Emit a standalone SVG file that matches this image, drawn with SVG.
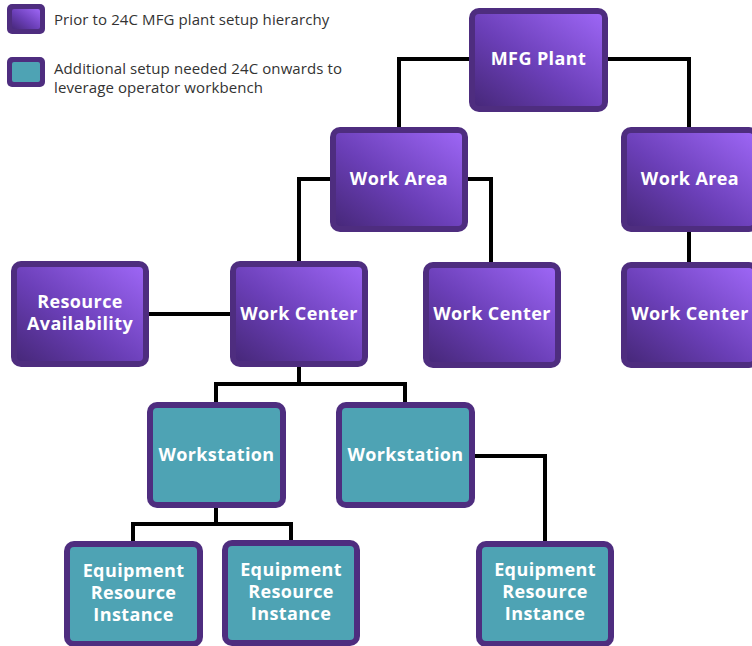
<svg xmlns="http://www.w3.org/2000/svg" width="752" height="646" viewBox="0 0 752 646">
<defs>
<linearGradient id="pg" x1="0" y1="1" x2="1" y2="0">
<stop offset="0" stop-color="#47287a"/>
<stop offset="0.45" stop-color="#6b3fb8"/>
<stop offset="1" stop-color="#9d66f5"/>
</linearGradient>
<style>
.ob{fill:#4e2d7f}
.pi{fill:url(#pg)}
.ti{fill:#4ea3b4}
.nt{font-family:"Open Sans","Lato","Liberation Sans",sans-serif;font-weight:700;font-size:18px;letter-spacing:0.4px;fill:#ffffff;text-anchor:middle}
.lt{font-family:"Open Sans","Lato","Liberation Sans",sans-serif;font-size:15px;letter-spacing:0.1px;fill:#333333}
.cn{fill:none;stroke:#000;stroke-width:4;stroke-linejoin:miter;stroke-linecap:butt}
</style>
</defs>
<rect width="752" height="646" fill="#ffffff"/>
<g id="legend">
<rect x="7" y="4" width="38" height="30" rx="5" class="ob"/>
<rect x="12" y="9" width="28" height="20" rx="2" class="pi"/>
<text x="54" y="25" class="lt">Prior to 24C MFG plant setup hierarchy</text>
<rect x="7" y="57" width="38" height="30" rx="5" class="ob"/>
<rect x="12" y="62" width="28" height="20" rx="2" class="ti"/>
<text x="54" y="74" class="lt">Additional setup needed 24C onwards to</text>
<text x="54" y="93" class="lt">leverage operator workbench</text>
</g>
<g id="connectors">
<path class="cn" d="M470 59 H399 V127"/>
<path class="cn" d="M608 59 H689 V127"/>
<path class="cn" d="M330 179 H299 V262"/>
<path class="cn" d="M468 179 H491 V262"/>
<path class="cn" d="M689 232 V262"/>
<path class="cn" d="M149 314 H230"/>
<path class="cn" d="M299 367 V384 M216 402 V384 H405 V402"/>
<path class="cn" d="M216 508 V524 M133 541 V524 H291 V541"/>
<path class="cn" d="M475 456 H545 V541"/>
</g>
<g id="mfg-plant">
<rect x="469" y="8" width="139" height="104" rx="10" class="ob"/>
<rect x="475" y="14" width="127" height="92" rx="4" class="pi"/>
<text x="538.5" y="65" class="nt">MFG Plant</text>
</g>
<g id="work-area-1">
<rect x="330" y="127" width="138" height="105" rx="10" class="ob"/>
<rect x="336" y="133" width="126" height="93" rx="4" class="pi"/>
<text x="399" y="185" class="nt">Work Area</text>
</g>
<g id="work-area-2">
<rect x="621" y="127" width="138" height="105" rx="10" class="ob"/>
<rect x="627" y="133" width="126" height="93" rx="4" class="pi"/>
<text x="690" y="185" class="nt">Work Area</text>
</g>
<g id="resource-availability">
<rect x="11" y="261" width="138" height="106" rx="10" class="ob"/>
<rect x="17" y="267" width="126" height="94" rx="4" class="pi"/>
<text x="80" y="308" class="nt">Resource</text>
<text x="80" y="330" class="nt">Availability</text>
</g>
<g id="work-center-1">
<rect x="230" y="261" width="138" height="106" rx="10" class="ob"/>
<rect x="236" y="267" width="126" height="94" rx="4" class="pi"/>
<text x="299" y="320" class="nt">Work Center</text>
</g>
<g id="work-center-2">
<rect x="423" y="262" width="138" height="106" rx="10" class="ob"/>
<rect x="429" y="268" width="126" height="94" rx="4" class="pi"/>
<text x="492" y="320" class="nt">Work Center</text>
</g>
<g id="work-center-3">
<rect x="621" y="262" width="138" height="106" rx="10" class="ob"/>
<rect x="627" y="268" width="126" height="94" rx="4" class="pi"/>
<text x="690" y="320" class="nt">Work Center</text>
</g>
<g id="workstation-1">
<rect x="147" y="402" width="139" height="106" rx="10" class="ob"/>
<rect x="153" y="408" width="127" height="94" rx="4" class="ti"/>
<text x="216.5" y="461" class="nt">Workstation</text>
</g>
<g id="workstation-2">
<rect x="336" y="402" width="139" height="106" rx="10" class="ob"/>
<rect x="342" y="408" width="127" height="94" rx="4" class="ti"/>
<text x="405.5" y="461" class="nt">Workstation</text>
</g>
<g id="equipment-1">
<rect x="64" y="541" width="139" height="106" rx="10" class="ob"/>
<rect x="70" y="547" width="127" height="94" rx="4" class="ti"/>
<text x="133.5" y="577" class="nt">Equipment</text>
<text x="133.5" y="599" class="nt">Resource</text>
<text x="133.5" y="621" class="nt">Instance</text>
</g>
<g id="equipment-2">
<rect x="222" y="540" width="138" height="106" rx="10" class="ob"/>
<rect x="228" y="546" width="126" height="94" rx="4" class="ti"/>
<text x="291" y="576" class="nt">Equipment</text>
<text x="291" y="598" class="nt">Resource</text>
<text x="291" y="620" class="nt">Instance</text>
</g>
<g id="equipment-3">
<rect x="476" y="541" width="138" height="106" rx="10" class="ob"/>
<rect x="482" y="547" width="126" height="94" rx="4" class="ti"/>
<text x="545" y="576" class="nt">Equipment</text>
<text x="545" y="598" class="nt">Resource</text>
<text x="545" y="620" class="nt">Instance</text>
</g>
</svg>
